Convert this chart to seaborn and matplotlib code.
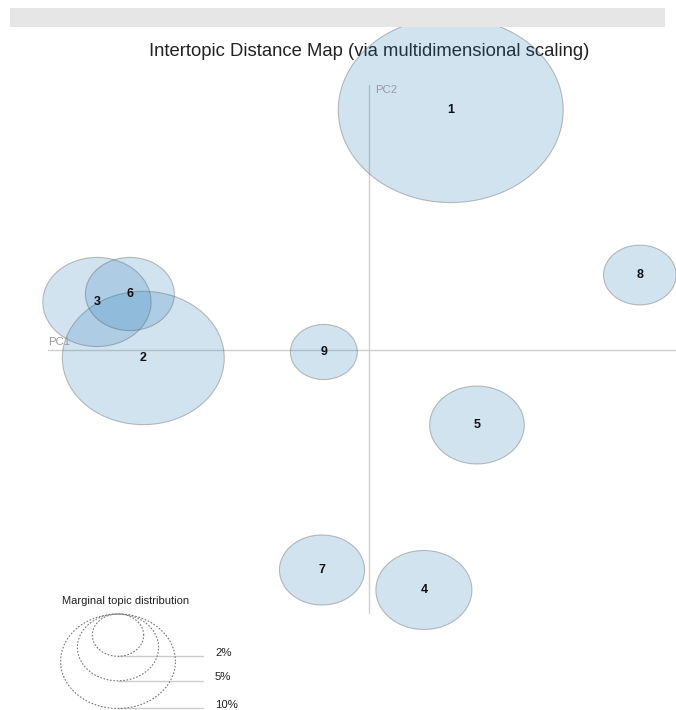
import numpy as np
import pandas as pd
import matplotlib
matplotlib.use("Agg")
import matplotlib.pyplot as plt
import seaborn as sns
from matplotlib.path import Path
from matplotlib.patches import Rectangle

# ---- data ----
topics = ["1", "2", "3", "4", "5", "6", "7", "8", "9"]
pc1 = [0.067, -0.185, -0.223, 0.045, 0.0885, -0.196, -0.0385, 0.222, -0.037]
pc2 = [0.240, -0.008, 0.048, -0.240, -0.075, 0.056, -0.220, 0.075, -0.002]
freq = [38.4, 19.9, 8.9, 7.0, 6.8, 6.0, 5.5, 4.0, 3.4]   # marginal topic distribution (%)
legend_pct = [2, 5, 10]
legend_labels = ["2%", "5%", "10%"]
title = "Intertopic Distance Map (via multidimensional scaling)"

df = pd.DataFrame({"topic": topics, "pc1": pc1, "pc2": pc2, "freq": freq})

sns.set_theme(style="white")
plt.rcParams["font.family"] = ["Liberation Sans", "DejaVu Sans"]

W, H, DPI = 676, 710, 100
fig = plt.figure(figsize=(W / DPI, H / DPI), dpi=DPI)

# stretched ellipse marker (screen-stretched circles)
ASPECT = 1.215
t = np.linspace(0, 2 * np.pi, 120)
ellipse = Path(np.column_stack([ASPECT * np.cos(t), np.sin(t)]), closed=True)
S_PER_PCT = 683.4
SIZES = (0, 100 * S_PER_PCT)
NORM = (0, 100)

# background / decoration axes in pixel coordinates
axb = fig.add_axes([0, 0, 1, 1])
axb.set_xlim(0, W)
axb.set_ylim(H, 0)
axb.axis("off")
axb.text(369, 51, title, ha="center", va="center", fontsize=13.3, color="#222222")

# legend
axb.text(62, 601, "Marginal topic distribution", ha="left", va="center",
         fontsize=8, color="#222222")
top = 614
cx = 118
leg_w = [np.sqrt(p * S_PER_PCT) * DPI / 72 for p in legend_pct]
leg_h = [w / ASPECT for w in leg_w]
ldf = pd.DataFrame({"x": [cx] * len(legend_pct),
                    "y": [top + h / 2 for h in leg_h],
                    "pct": legend_pct})
sns.scatterplot(data=ldf, x="x", y="y", size="pct", sizes=SIZES, size_norm=NORM,
                marker=ellipse, legend=False, ax=axb)
lc = axb.collections[-1]
lc.set_facecolor("none")
lc.set_edgecolor("#777777")
lc.set_linewidth(0.8)
lc.set_linestyle((0, (1.5, 1.5)))
for h, lab in zip(leg_h, legend_labels):
    axb.plot([cx, 203], [top + h, top + h], color="#cccccc", lw=1, zorder=0)
    axb.text(215, top + h - 3.5, lab, ha="left", va="center", fontsize=8.2, color="#222222")

# main data axes (PC1 / PC2)
ax = fig.add_axes([0, 0, 1, 1])
ax.patch.set_alpha(0)
X0, Y0, KX, KY = 369, 350, 1220, 1000
ax.set_xlim((0 - X0) / KX, (W - X0) / KX)
ax.set_ylim((Y0 - H) / KY, (Y0 - 0) / KY)
ax.axis("off")

ax.axhline(0, xmin=48 / W, xmax=1, color="#d0d0d0", lw=1, zorder=0)
ax.axvline(0, ymin=(H - 613) / H, ymax=(H - 85) / H, color="#d0d0d0", lw=1, zorder=0)
ax.text((48 - X0) / KX, (Y0 - 342) / KY, "PC1", ha="left", va="center",
        fontsize=8.2, color="#999999")
ax.text((375 - X0) / KX, (Y0 - 90) / KY, "PC2", ha="left", va="center",
        fontsize=8.2, color="#999999")

sns.scatterplot(data=df, x="pc1", y="pc2", size="freq", sizes=SIZES, size_norm=NORM,
                marker=ellipse, legend=False, ax=ax)
coll = ax.collections[-1]
coll.set_facecolor((0.122, 0.467, 0.706, 0.2))
coll.set_edgecolor((0.3, 0.3, 0.3, 0.35))
coll.set_linewidth(0.8)

for tp, x, y in zip(topics, pc1, pc2):
    ax.text(x, y, tp, ha="center", va="center", fontsize=9, fontweight="bold",
            color="#111111", zorder=5)

# grey header bar drawn on top of everything
ax.add_patch(Rectangle((10, 8), 655, 19, color="#e6e6e6", lw=0,
                       transform=axb.transData, zorder=20))

fig.savefig("out.png", dpi=DPI)
